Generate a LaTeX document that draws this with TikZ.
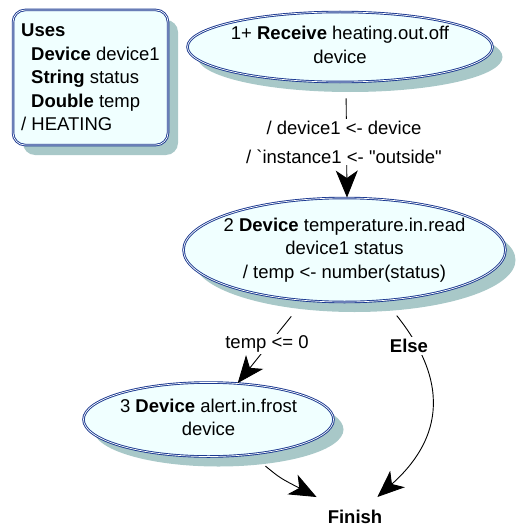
\documentclass[tikz,border=0pt]{standalone}
\usepackage{fontspec}
\newfontfamily\df{Liberation Sans}
\usetikzlibrary{arrows.meta,shapes.geometric,shadows}
\definecolor{bord}{HTML}{1A3890}
\definecolor{fillc}{HTML}{F0FFFF}
\definecolor{shad}{HTML}{A8C8C8}
\newcommand\ctext[1]{\makebox[0pt]{\begin{tabular}{@{}c@{}}#1\end{tabular}}}
\begin{document}
\begin{tikzpicture}[x=1pt,y=-1pt,
  every node/.style={font=\df\fontsize{18.5}{23.5}\selectfont},
  shad/.style={drop shadow={shadow xshift=10pt, shadow yshift=-10pt, fill=shad, opacity=1}},
  state/.style={ellipse, draw=bord, double=white, double distance=0.7pt, line width=0.9pt,
    fill=fillc, inner sep=0pt, shad},
  usesbox/.style={rectangle, rounded corners=12pt, draw=bord, double=white, double distance=0.7pt,
    line width=0.9pt, fill=fillc, align=left, minimum width=155pt, minimum height=135pt, shad},
  lbl/.style={fill=white, inner sep=2pt, align=center},
  arr/.style={-{Stealth[length=27pt,width=22pt,inset=7.5pt]}, line width=0.9pt, draw=black}
]
\useasboundingbox (0,0) rectangle (516,527);

\node[usesbox] (uses) at (90.5,77.5) {\textbf{Uses}\\
  \hspace*{10pt}\textbf{Device} device1\\
  \hspace*{10pt}\textbf{String} status\\
  \hspace*{10pt}\textbf{Double} temp\\
  / HEATING};

\node[state, minimum width=305pt, minimum height=70pt] (e1) at (340,47)
  {\ctext{1+ \textbf{Receive} heating.out.off\\ device}};
\node[state, minimum width=322pt, minimum height=104pt] (e2) at (344.5,250)
  {\ctext{2 \textbf{Device} temperature.in.read\\ device1 status\\ / temp <- number(status)}};
\node[state, minimum width=250pt, minimum height=74pt] (e3) at (208.5,419.5)
  {\ctext{3 \textbf{Device} alert.in.frost\\ device}};
\node[inner xsep=12pt, inner ysep=13pt] (fin) at (355,517) {\textbf{Finish}};

\draw[arr, shorten <=16pt] ([xshift=6pt]e1.south) -- ([xshift=2.5pt]e2.north);
\draw[arr, shorten <=20pt] (e2) -- (e3);
\draw[arr, shorten <=19pt] (e2) .. controls (460,395) and (430,450) .. (fin);
\draw[arr, shorten <=18pt] (e3) .. controls (280,478) .. (fin);

\node[lbl, font=\df\fontsize{18.5}{29}\selectfont] (l1) at (344,142)
  {/ device1 <- device\\ / `instance1 <- "outside"};
\node[lbl] (l2) at (267,344) {temp <= 0};
\node[lbl] (l3) at (409,346) {\textbf{Else}};
\end{tikzpicture}
\end{document}
